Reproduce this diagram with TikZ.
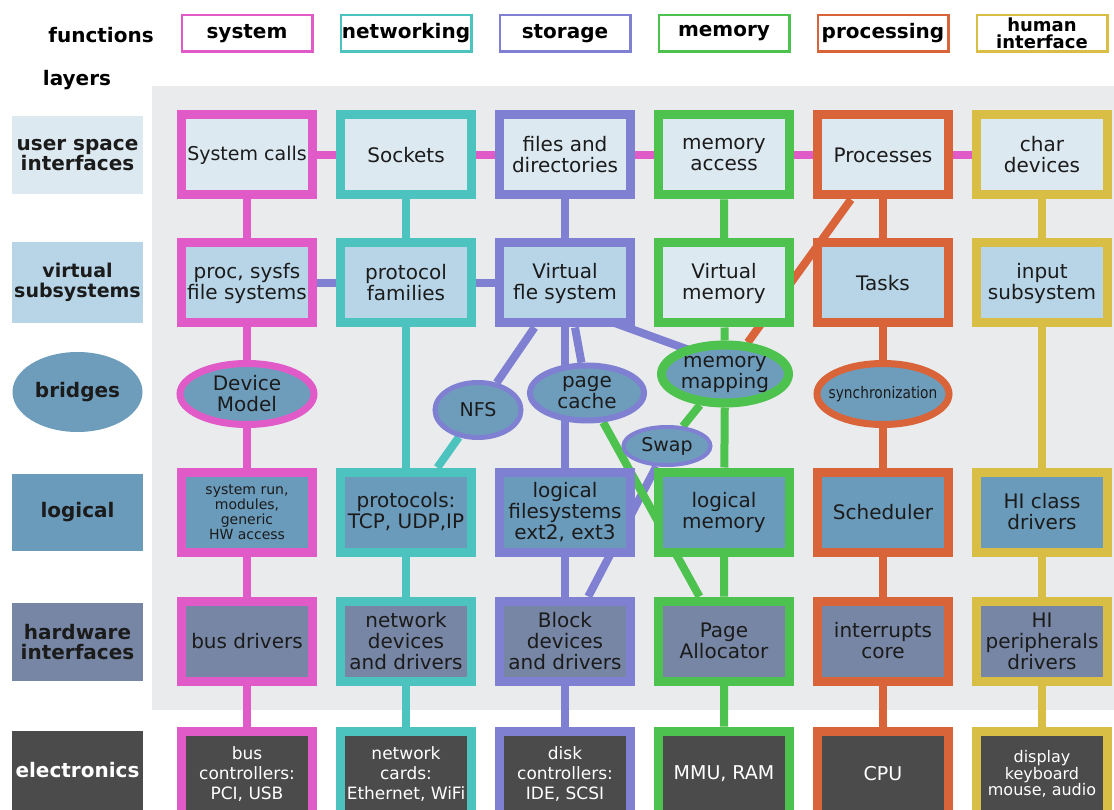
\documentclass[tikz,border=0pt]{standalone}
\usepackage{fontspec}
\setmainfont{DejaVu Sans}
\usetikzlibrary{shapes.geometric}
\usetikzlibrary{backgrounds}
\definecolor{csys}{HTML}{E05AC8}
\definecolor{cnet}{HTML}{4CC3BF}
\definecolor{csto}{HTML}{8080D2}
\definecolor{cmem}{HTML}{4EC24E}
\definecolor{cproc}{HTML}{D9643A}
\definecolor{chum}{HTML}{D8BE44}
\definecolor{fuser}{HTML}{DCE9F1}
\definecolor{fvirt}{HTML}{B7D5E7}
\definecolor{fbridge}{HTML}{6E9DBC}
\definecolor{flogic}{HTML}{6B9BBB}
\definecolor{fhw}{HTML}{7686A4}
\definecolor{felec}{HTML}{4B4B4B}
\definecolor{panel}{HTML}{E9EBED}
\definecolor{ink}{HTML}{1B1B1B}
\tikzset{box/.style={rectangle,draw,line width=9pt,minimum width=131pt,minimum height=80pt,
             inner sep=0pt,align=center,text=ink,font=\fontsize{20}{21}\selectfont},
         user/.style={box,fill=fuser},
         virt/.style={box,fill=fvirt},
         logic/.style={box,fill=flogic},
         hw/.style={box,fill=fhw},
         elec/.style={box,fill=felec,text=white,minimum height=86pt,font=\fontsize{17}{20}\selectfont},
         bridge/.style={ellipse,draw,line width=7pt,fill=fbridge,inner sep=0pt},
         btext/.style={align=center,text=ink,inner sep=0pt,font=\fontsize{20}{21}\selectfont},
         func/.style={rectangle,draw,line width=2.5pt,fill=white,minimum width=130.5pt,
             minimum height=36.5pt,inner sep=0pt,align=center,font=\bfseries\fontsize{20}{18}\selectfont},
         layer/.style={rectangle,minimum width=131pt,minimum height=78pt,inner sep=0pt,
             align=center,text=ink,font=\bfseries\fontsize{20}{20}\selectfont},
         link/.style={line width=8pt},
         }

\begin{document}
\begin{tikzpicture}[x=1pt,y=-1pt]
\useasboundingbox (0,0) rectangle (1114,810);
\begin{pgfonlayer}{background}
\fill[panel] (152,86) rectangle (1114,710);
\end{pgfonlayer}

% functions and layers
\node[font=\bfseries\fontsize{20}{20}\selectfont] (functions) at (101,35) {functions};
\node[font=\bfseries\fontsize{20}{20}\selectfont] (layers) at (77,80) {layers};
\node[func,draw=csys] (fsys) at (247,33.5) {system};
\node[func,draw=cnet] (fnet) at (406,33.5) {networking};
\node[func,draw=csto] (fsto) at (565,33.5) {storage};
\node[func,draw=cmem] (fmem) at (724,33.5) {memory};
\node[func,draw=cproc] (fproc) at (883,33.5) {processing};
\node[func,draw=chum,font=\bfseries\fontsize{18}{17}\selectfont] (fhum) at (1042,33.5) {human\\interface};

\node[layer,fill=fuser] (luser) at (77.5,155) {user space\\interfaces};
\node[layer,fill=fvirt,minimum height=81pt,font=\bfseries\fontsize{19}{20}\selectfont] (lvirt) at (77.5,282.5) {virtual\\subsystems};
\node[ellipse,fill=fbridge,minimum width=130pt,minimum height=80pt,inner sep=0pt,text=ink,
      font=\bfseries\fontsize{20}{20}\selectfont] (lbridge) at (77.5,392) {bridges};
\node[layer,fill=flogic,minimum height=77pt] (llogic) at (77.5,512.5) {logical};
\node[layer,fill=fhw] (lhw) at (77.5,642) {hardware\\interfaces};
\node[layer,fill=felec,text=white,minimum height=79pt] (lelec) at (77.5,770) {electronics};

% system
\node[user,draw=csys,font=\fontsize{19}{21}\selectfont] (sc) at (247,155) {System calls};
\node[virt,draw=csys] (procfs) at (247,283) {proc, sysfs\\file systems};
\node[bridge,draw=csys,minimum width=134pt,minimum height=61pt] (devmodel) at (247,394) {};
\node[btext] (devmodel-t) at (devmodel) {Device\\Model};
\node[logic,draw=csys,font=\fontsize{14}{15}\selectfont] (sysrun) at (247,512) {system run,\\modules,\\generic\\HW access};
\node[hw,draw=csys] (busdrv) at (247,641) {bus drivers};
\node[elec,draw=csys] (busctl) at (247,774) {bus\\controllers:\\PCI, USB};

% networking
\node[user,draw=cnet] (sock) at (406,155) {Sockets};
\node[virt,draw=cnet] (protofam) at (406,283) {protocol\\families};
\node[logic,draw=cnet] (protocols) at (406,512) {protocols:\\TCP, UDP,IP};
\node[hw,draw=cnet] (netdev) at (406,641) {network\\devices\\and drivers};
\node[elec,draw=cnet] (netcard) at (406,774) {network\\cards:\\Ethernet, WiFi};

% storage
\node[user,draw=csto] (files) at (565,155) {files and\\directories};
\node[virt,draw=csto] (vfs) at (565,283) {Virtual\\fle system};
\node[bridge,draw=csto,line width=5pt,minimum width=86pt,minimum height=55pt] (nfs) at (478,410) {};
\node[btext,font=\fontsize{19}{21}\selectfont] (nfs-t) at (nfs) {NFS};
\node[bridge,draw=csto,line width=6pt,minimum width=114pt,minimum height=55pt] (pcache) at (587,393) {};
\node[btext] (pcache-t) at (pcache) {page\\cache};
\node[logic,draw=csto] (logfs) at (565,512) {logical\\filesystems\\ext2, ext3};
\node[hw,draw=csto] (blockdev) at (565,641) {Block\\devices\\and drivers};
\node[elec,draw=csto] (diskctl) at (565,774) {disk\\controllers:\\IDE, SCSI};

% memory
\node[user,draw=cmem] (memacc) at (724,155) {memory\\access};
\node[user,draw=cmem] (vmem) at (724,283) {Virtual\\memory};
\node[bridge,draw=cmem,line width=9pt,minimum width=127pt,minimum height=58pt] (mmap) at (725,374) {};
\node[btext] (mmap-t) at (mmap) {memory\\mapping};
\node[bridge,draw=csto,line width=4pt,minimum width=87pt,minimum height=38pt] (swap) at (667,446) {};
\node[btext,font=\fontsize{19}{21}\selectfont] (swap-t) at (swap) {Swap};
\node[logic,draw=cmem] (logmem) at (724,512) {logical\\memory};
\node[hw,draw=cmem] (pgalloc) at (724,641) {Page\\Allocator};
\node[elec,draw=cmem,font=\fontsize{19}{20}\selectfont] (mmu) at (724,774) {MMU, RAM};

% processing
\node[user,draw=cproc] (procs) at (883,155) {Processes};
\node[virt,draw=cproc] (tasks) at (883,283) {Tasks};
\node[bridge,draw=cproc,minimum width=132pt,minimum height=61pt] (sync) at (883,394) {};
\node[btext,font=\fontsize{16}{16}\selectfont] (sync-t) at (sync) {\scalebox{0.86}[1]{synchronization}};
\node[logic,draw=cproc] (sched) at (883,512) {Scheduler};
\node[hw,draw=cproc] (irq) at (883,641) {interrupts\\core};
\node[elec,draw=cproc,font=\fontsize{19}{20}\selectfont] (cpu) at (883,774) {CPU};

% human interface
\node[user,draw=chum] (chardev) at (1042,155) {char\\devices};
\node[virt,draw=chum] (input) at (1042,283) {input\\subsystem};
\node[logic,draw=chum] (hiclass) at (1042,512) {HI class\\drivers};
\node[hw,draw=chum] (hiperiph) at (1042,641) {HI\\peripherals\\drivers};
\node[elec,draw=chum,font=\fontsize{16}{16.5}\selectfont] (hidev) at (1042,774) {display\\keyboard\\mouse, audio};

\begin{pgfonlayer}{background}
\draw[link,csys] (sc) -- (sock) -- (files) -- (memacc) -- (procs) -- (chardev);
\draw[link,csto] (procfs) -- (protofam) -- (vfs);
\draw[link,csys] (sc) -- (procfs) -- (devmodel) -- (sysrun) -- (busdrv) -- (busctl);
\draw[link,cnet] (sock) -- (protofam) -- (protocols) -- (netdev) -- (netcard);
\draw[link,csto] (files) -- (vfs) -- (logfs) -- (blockdev) -- (diskctl);
\draw[link,csto] (vfs) -- (nfs);
\draw[link,csto] ([xshift=10pt]vfs.south) -- (pcache);
\draw[link,csto] ([yshift=-22pt]vfs.center) -- ([yshift=11pt]mmap.center);
\draw[link,csto] (swap) -- (blockdev);
\draw[link,cnet] (nfs) -- (protocols);
\draw[link,cmem] (pcache) -- (pgalloc);
\draw[link,cmem] (mmap) -- (swap);
\draw[link,cmem] (memacc) -- (vmem) -- (mmap) -- (logmem) -- (pgalloc) -- (mmu);
\draw[link,cproc] (procs) -- (mmap);
\draw[link,cproc] (procs) -- (tasks) -- (sync) -- (sched) -- (irq) -- (cpu);
\draw[link,chum] (chardev) -- (input) -- (hiclass) -- (hiperiph) -- (hidev);
\end{pgfonlayer}
\end{tikzpicture}
\end{document}
